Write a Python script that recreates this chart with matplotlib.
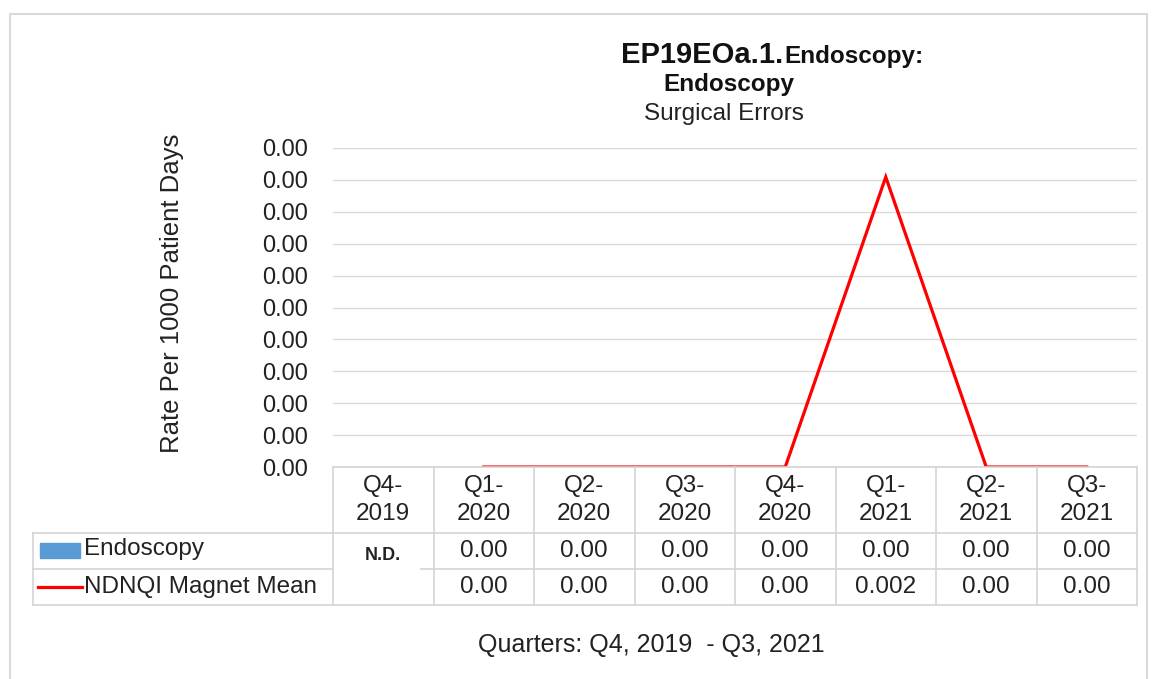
import matplotlib
matplotlib.use('Agg')
from matplotlib import pyplot as plt
from matplotlib.patches import Rectangle
from matplotlib.lines import Line2D
import numpy as np

plt.rcParams['font.family'] = ['Liberation Sans', 'DejaVu Sans']

quarters = ['Q4-\n2019', 'Q1-\n2020', 'Q2-\n2020', 'Q3-\n2020', 'Q4-\n2020',
            'Q1-\n2021', 'Q2-\n2021', 'Q3-\n2021']
endoscopy = [None, 0.0, 0.0, 0.0, 0.0, 0.0, 0.0, 0.0]
magnet_mean = [None, 0.0, 0.0, 0.0, 0.0, 0.002, 0.0, 0.0]
endoscopy_txt = ['N.D.', '0.00', '0.00', '0.00', '0.00', '0.00', '0.00', '0.00']
magnet_txt = ['', '0.00', '0.00', '0.00', '0.00', '0.002', '0.00', '0.00']

W, H = 1157, 679
fig = plt.figure(figsize=(W / 100, H / 100), dpi=100)
FS = 17.5
TC = '#222222'

def fx(px):
    return px / W

def fy(py):
    return 1 - py / H

# outer frame
fig.add_artist(Rectangle((fx(10), fy(690)), fx(1137), (690 - 14) / H,
                         transform=fig.transFigure, fill=False,
                         edgecolor='#d9d9d9', linewidth=1.5))

x0, x1, ytop, ybot = 333, 1137, 148, 467
ax = fig.add_axes([fx(x0), fy(ybot), fx(x1 - x0), (ybot - ytop) / H])

n = len(quarters)
x = np.arange(n)
y = np.array([np.nan if v is None else v for v in magnet_mean])
ax.plot(x, y, color='#ff0000', linewidth=2.3, solid_joinstyle='miter')

ax.set_xlim(-0.5, n - 0.5)
ax.set_ylim(0, 0.0022)
ax.set_yticks(np.linspace(0, 0.0022, 11))
ax.set_yticklabels(['0.00'] * 11, fontsize=17, color=TC)
ax.tick_params(axis='y', length=0, pad=18)
ax.set_xticks([])
ax.grid(axis='y', color='#d9d9d9', linewidth=1)
ax.set_axisbelow(True)
for s in ax.spines.values():
    s.set_visible(False)
ax.set_ylabel('Rate Per 1000 Patient Days', fontsize=18.5, color=TC)
ax.yaxis.set_label_coords((184 - x0) / (x1 - x0), (ybot - 293) / (ybot - ytop))

# table
col_w = (x1 - x0) / n
gc = '#d4d4d4'
def hline(xa, xb, yy):
    fig.add_artist(Line2D([fx(xa), fx(xb)], [fy(yy), fy(yy)], color=gc, linewidth=1.2))
def vline(xx, ya, yb):
    fig.add_artist(Line2D([fx(xx), fx(xx)], [fy(ya), fy(yb)], color=gc, linewidth=1.2))

hline(x0, x1, 467)
hline(33, x1, 533)
hline(33, x0, 569)
hline(x0 + col_w * 0.88, x1, 569)
hline(33, x1, 605)
vline(33, 533, 605)
for i in range(n + 1):
    vline(x0 + i * col_w, 467, 605)

for i, q in enumerate(quarters):
    cx = fx(x0 + (i + 0.5) * col_w)
    fig.text(cx, fy(500), q, ha='center', va='center', fontsize=FS,
             color=TC, linespacing=1.3)
    if endoscopy_txt[i] == 'N.D.':
        fig.text(cx, fy(556), endoscopy_txt[i], ha='center', va='center',
                 fontsize=13, fontweight='bold', color=TC)
    else:
        fig.text(cx, fy(551), endoscopy_txt[i], ha='center', va='center',
                 fontsize=FS, color=TC)
    fig.text(cx, fy(587), magnet_txt[i], ha='center', va='center',
             fontsize=FS, color=TC)

fig.add_artist(Rectangle((fx(40), fy(558)), fx(40), 15 / H,
                         transform=fig.transFigure, color='#5b9bd5'))
fig.add_artist(Line2D([fx(38), fx(82)], [fy(587), fy(587)], color='#ff0000', linewidth=2.3))
fig.text(fx(84), fy(549), 'Endoscopy', ha='left', va='center', fontsize=FS, color=TC)
fig.text(fx(84), fy(587), 'NDNQI Magnet Mean', ha='left', va='center', fontsize=FS,
         color=TC)

# titles
fig.text(fx(783), fy(55), 'EP19EOa.1.', ha='right', va='center', fontsize=21,
         fontweight='bold', color='#111111')
fig.text(fx(784), fy(57), 'Endoscopy:', ha='left', va='center', fontsize=17.5,
         fontweight='bold', color='#111111')
fig.text(fx(729), fy(85), 'Endoscopy', ha='center', va='center', fontsize=17.5,
         fontweight='bold', color='#111111')
fig.text(fx(724), fy(114), 'Surgical Errors', ha='center', va='center', fontsize=FS,
         color=TC)

fig.text(fx(651), fy(645), 'Quarters: Q4, 2019  - Q3, 2021', ha='center', va='center',
         fontsize=18, color=TC)

plt.savefig('out.png', dpi=100)
